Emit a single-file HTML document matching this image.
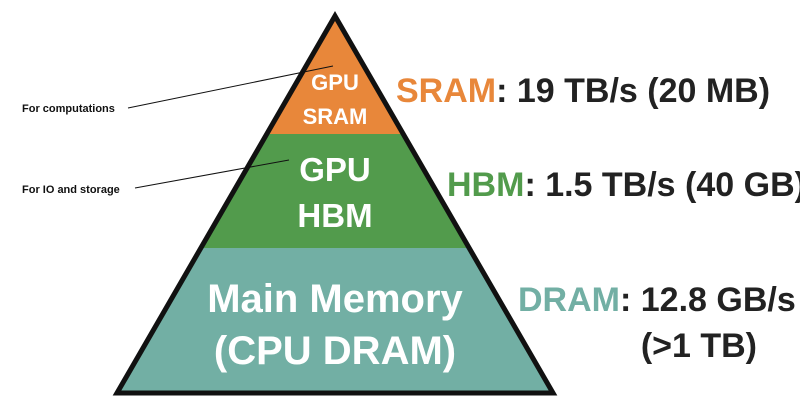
<!DOCTYPE html>
<html><head><meta charset="utf-8"><style>
html,body{margin:0;padding:0;background:#fff;}
body{width:800px;height:406px;overflow:hidden;}
</style></head><body>
<svg width="800" height="406" viewBox="0 0 800 406" xmlns="http://www.w3.org/2000/svg" font-family="Liberation Sans, DejaVu Sans, sans-serif" font-weight="bold">
<defs><clipPath id="tri"><polygon points="335,16 553,393 117,393"/></clipPath></defs>
<g clip-path="url(#tri)">
<rect x="0" y="0" width="800" height="134" fill="#E8873A"/>
<rect x="0" y="134" width="800" height="114" fill="#529B4C"/>
<rect x="0" y="248" width="800" height="160" fill="#72AFA4"/>
</g>
<polygon points="335,16 553,393 117,393" fill="none" stroke="#111" stroke-width="5" stroke-linejoin="miter"/>
<line x1="128" y1="108" x2="333" y2="66" stroke="#111" stroke-width="1"/>
<line x1="135" y1="188" x2="289" y2="160" stroke="#111" stroke-width="1"/>
<text x="22" y="112" font-size="11" fill="#111">For computations</text>
<text x="22" y="193" font-size="11" fill="#111">For IO and storage</text>
<g fill="#fff" text-anchor="middle">
<text x="335" y="90" font-size="22">GPU</text>
<text x="335" y="124" font-size="22">SRAM</text>
<text x="335" y="181" font-size="33">GPU</text>
<text x="335" y="227" font-size="33">HBM</text>
<text x="335" y="312" font-size="40">Main Memory</text>
<text x="335" y="364" font-size="40">(CPU DRAM)</text>
</g>
<g font-size="34" fill="#222">
<text x="396" y="102"><tspan fill="#E8873A">SRAM</tspan>: 19 TB/s (20 MB)</text>
<text x="447" y="196"><tspan fill="#529B4C">HBM</tspan>: 1.5 TB/s (40 GB)</text>
<text x="518" y="311"><tspan fill="#72AFA4">DRAM</tspan>: 12.8 GB/s</text>
<text x="757" y="357" text-anchor="end">(&gt;1 TB)</text>
</g>
</svg>
</body></html>
